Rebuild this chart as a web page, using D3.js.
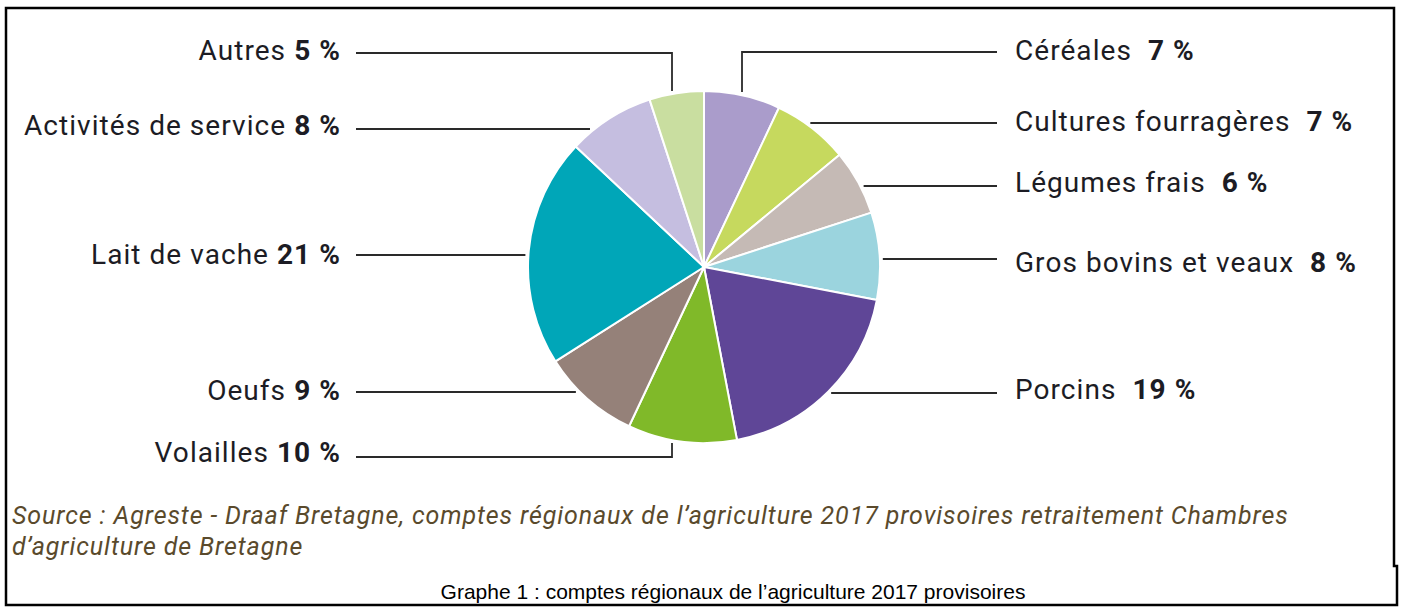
<!DOCTYPE html>
<html>
<head>
<meta charset="utf-8">
<script src="https://cdn.jsdelivr.net/npm/d3@7/dist/d3.min.js"></script>
<style>
  html, body { margin: 0; padding: 0; background: #fff; }
  svg { display: block; }
</style>
</head>
<body>
<svg id="chart" width="1401" height="608"></svg>
<script>
// Production agricole bretonne 2017 : parts de chaque filière (en %)
const categories = [
  "Céréales", "Cultures fourragères", "Légumes frais", "Gros bovins et veaux",
  "Porcins", "Volailles", "Oeufs", "Lait de vache", "Activités de service", "Autres"
];
const values = [7, 7, 6, 8, 19, 10, 9, 21, 8, 5];
const colors = [
  "#aa9ccb", "#c6d95e", "#c5bab5", "#9bd4de",
  "#5f4697", "#80b929", "#958179", "#00a6b8", "#c5bee0", "#c9dea0"
];

const sourceLines = [
  "Source : Agreste - Draaf Bretagne, comptes régionaux de l’agriculture 2017 provisoires retraitement Chambres",
  "d’agriculture de Bretagne"
];
const caption = "Graphe 1 : comptes régionaux de l’agriculture 2017 provisoires";

// Placement des étiquettes : côté, hauteur du texte, hauteur du trait,
// et pour les traits coudés l'abscisse du segment vertical.
const labelLayout = [
  { side: "right", ty: 50,  ly: 52,  elbowX: 742 },
  { side: "right", ty: 121, ly: 123 },
  { side: "right", ty: 182, ly: 186 },
  { side: "right", ty: 262, ly: 259 },
  { side: "right", ty: 389, ly: 393 },
  { side: "left",  ty: 452, ly: 457, elbowX: 672 },
  { side: "left",  ty: 390, ly: 392 },
  { side: "left",  ty: 254, ly: 255 },
  { side: "left",  ty: 125, ly: 129 },
  { side: "left",  ty: 50,  ly: 53,  elbowX: 672 }
];

const svg = d3.select("#chart");
const cx = 704, cy = 267, radius = 176;

// Cadre
svg.append("path")
  .attr("d", "M6,8 H1394 V566 H1397 V605 H6 Z")
  .attr("fill", "none")
  .attr("stroke", "#000")
  .attr("stroke-width", 2.5);

// Camembert
const pie = d3.pie().sort(null).value(d => d.value);
const arc = d3.arc().innerRadius(0).outerRadius(radius);
const data = categories.map((c, i) => ({ name: c, value: values[i], color: colors[i], layout: labelLayout[i] }));
const arcs = pie(data);

const g = svg.append("g").attr("transform", `translate(${cx},${cy})`);
g.selectAll("path.slice")
  .data(arcs)
  .join("path")
  .attr("class", "slice")
  .attr("d", arc)
  .attr("fill", d => d.data.color)
  .attr("stroke", "#fff")
  .attr("stroke-width", 2)
  .attr("stroke-linejoin", "round");

// Traits de rappel
const leftLineX = 356, rightLineX = 997, reach = radius + 3;
const lines = svg.append("g")
  .attr("fill", "none")
  .attr("stroke", "#2a2a2a")
  .attr("stroke-width", 1.8);

arcs.forEach(a => {
  const L = a.data.layout;
  const outerX = L.side === "left" ? leftLineX : rightLineX;
  let d;
  if (L.elbowX !== undefined) {
    const dx = L.elbowX - cx;
    const dy = Math.sqrt(reach * reach - dx * dx);
    const yEdge = L.ly < cy ? cy - dy : cy + dy;
    d = `M${outerX},${L.ly} H${L.elbowX} V${yEdge}`;
  } else {
    const dy = L.ly - cy;
    const dx = Math.sqrt(Math.max(0, reach * reach - dy * dy));
    const xEdge = L.side === "left" ? cx - dx : cx + dx;
    d = `M${outerX},${L.ly} H${xEdge}`;
  }
  lines.append("path").attr("d", d);
});

// Étiquettes
const fmt = v => `${v} %`;
const labels = svg.append("g")
  .attr("font-family", "Roboto, 'Noto Sans', sans-serif")
  .attr("font-size", 28)
  .attr("letter-spacing", 1.05)
  .attr("fill", "#1c1c24");

arcs.forEach(a => {
  const L = a.data.layout;
  const left = L.side === "left";
  const t = labels.append("text")
    .attr("x", left ? 341 : 1015)
    .attr("y", L.ty)
    .attr("dy", "0.35em")
    .attr("text-anchor", left ? "end" : "start");
  t.append("tspan").text(a.data.name + (left ? " " : "\u00a0 "));
  t.append("tspan").attr("font-weight", "bold").text(fmt(a.data.value));
});

// Source
svg.append("g")
  .attr("font-family", "Roboto, 'Noto Sans', sans-serif")
  .attr("font-style", "italic")
  .attr("font-size", 25)
  .attr("letter-spacing", 0.9)
  .attr("fill", "#5a4a2c")
  .selectAll("text")
  .data(sourceLines)
  .join("text")
  .attr("x", 12)
  .attr("y", (d, i) => 515 + i * 31)
  .attr("dy", "0.35em")
  .text(d => d);

// Légende du graphe
svg.append("text")
  .attr("x", 733)
  .attr("y", 592)
  .attr("dy", "0.35em")
  .attr("text-anchor", "middle")
  .attr("font-family", "'Liberation Sans', Arial, sans-serif")
  .attr("font-size", 21)
  .attr("fill", "#000")
  .text(caption);
</script>
</body>
</html>
